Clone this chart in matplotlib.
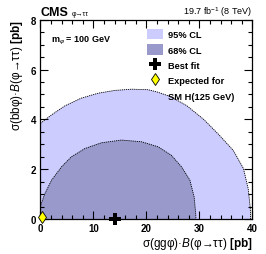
import matplotlib
matplotlib.use("Agg")
import matplotlib.pyplot as plt
from matplotlib.patches import Patch
from matplotlib.lines import Line2D
from matplotlib.ticker import MultipleLocator

plt.rcParams['font.family'] = ['Liberation Sans', 'DejaVu Sans']
plt.rcParams['mathtext.fontset'] = 'custom'
plt.rcParams['mathtext.rm'] = 'Liberation Sans'
plt.rcParams['mathtext.it'] = 'Liberation Sans:italic'
plt.rcParams['mathtext.bf'] = 'Liberation Sans:bold'

# contour points (ggphi xs [pb], bbphi xs [pb])
cl95_x = [0, 0, 2.1, 4.6, 7.7, 10.9, 14.0, 17.2, 20.3, 22.0, 24.5, 27.6,
          30.8, 33.6, 36.4, 38.3, 39.2, 39.6, 39.65]
cl95_y = [0, 3.84, 4.18, 4.54, 4.85, 5.05, 5.16, 5.21, 5.19, 5.1, 4.92, 4.55,
          4.0, 3.4, 2.75, 2.03, 1.22, 0.42, 0]
cl68_x = [0, 0.05, 0.83, 2.1, 4.0, 5.85, 8.4, 11.5, 15.3, 19.1, 22.2, 24.7,
          26.6, 28.2, 29.0, 29.3, 29.35]
cl68_y = [0, 0.55, 1.02, 1.56, 2.1, 2.5, 2.83, 3.06, 3.17, 3.1, 2.9, 2.56,
          2.1, 1.56, 0.89, 0.21, 0]

best_fit = (14.0, 0.0)
expected_sm = (0.3, 0.08)

c95 = '#ccccff'
c68 = '#9999cc'

fig = plt.figure(figsize=(2.66, 2.55), dpi=100)
ax = fig.add_axes([0.152, 0.137, 0.797, 0.782])

ax.fill(cl95_x, cl95_y, color=c95, lw=0)
ax.fill(cl68_x, cl68_y, color=c68, lw=0)
ax.plot(cl95_x[1:], cl95_y[1:], color='k', lw=0.6, ls=(0, (1.5, 1)))
ax.plot(cl68_x[1:], cl68_y[1:], color='k', lw=0.6, ls=(0, (1.5, 1)))

ax.plot(*best_fit, marker='P', color='k', ms=8, mew=0, clip_on=False, zorder=5)
ax.plot(*expected_sm, marker='d', mfc='yellow', mec='k', mew=0.6, ms=6,
        clip_on=False, zorder=5)

ax.set_xlim(0, 40)
ax.set_ylim(0, 8)
ax.xaxis.set_major_locator(MultipleLocator(10))
ax.xaxis.set_minor_locator(MultipleLocator(2))
ax.yaxis.set_major_locator(MultipleLocator(2))
ax.yaxis.set_minor_locator(MultipleLocator(0.5))
ax.tick_params(which='both', direction='in', top=True, right=True,
               labelsize=7, width=0.8, pad=3)
ax.tick_params(which='major', length=6)
ax.tick_params(which='minor', length=3)
for lab in ax.get_xticklabels() + ax.get_yticklabels():
    lab.set_fontweight('bold')
for s in ax.spines.values():
    s.set_linewidth(0.9)

ax.set_xlabel('σ(ggφ)·$\\mathit{B}$(φ→ττ) $\\mathbf{[pb]}$',
              fontsize=8.5, loc='right', labelpad=1)
ax.set_ylabel('σ(bbφ)·$\\mathit{B}$(φ→ττ) $\\mathbf{[pb]}$',
              fontsize=8.5, loc='top', labelpad=4)

fig.text(0.152, 0.925, 'CMS', fontsize=9, fontweight='bold', va='bottom')
fig.text(0.27, 0.928, 'φ→ττ', fontsize=5, va='bottom')
fig.text(0.949, 0.925, '19.7 fb$^{-1}$ (8 TeV)', fontsize=6.5, ha='right', va='bottom')

ax.text(0.05, 0.93, 'm$_{φ}$ = 100 GeV', transform=ax.transAxes, fontsize=6.5,
        fontweight='bold', va='top')

handles = [Patch(facecolor=c95, edgecolor='none'),
           Patch(facecolor=c68, edgecolor='none'),
           Line2D([], [], marker='P', color='k', ms=8, mew=0, ls='none'),
           Line2D([], [], marker='d', mfc='yellow', mec='k', mew=0.6, ms=6, ls='none'),
           Line2D([], [], ls='none')]
labels = ['95% CL', '68% CL', 'Best fit', 'Expected for', 'SM H(125 GeV)']
leg = ax.legend(handles, labels, loc='upper right', bbox_to_anchor=(0.945, 0.985),
                frameon=False, fontsize=6.7, handlelength=1.7, handleheight=1.3,
                labelspacing=0.55, handletextpad=0.5, borderpad=0.2)
for t in leg.get_texts():
    t.set_fontweight('bold')

fig.savefig('out.png', dpi=100)
